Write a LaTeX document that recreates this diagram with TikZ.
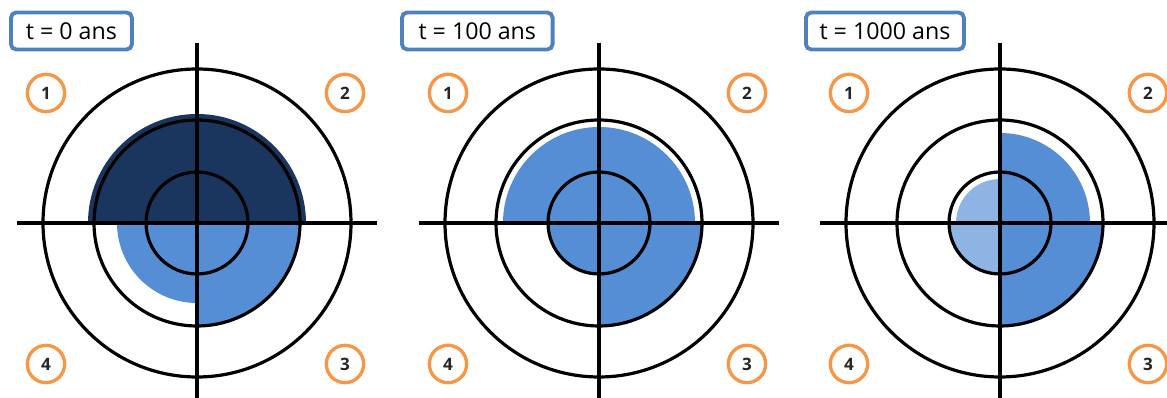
\documentclass[tikz,border=0pt]{standalone}
\usepackage{fontspec}
\setmainfont{Open Sans}
\usepackage{tkz-euclide}
\definecolor{navy}{HTML}{1A365E}
\definecolor{midblue}{HTML}{558ED5}
\definecolor{paleblue}{HTML}{8EB4E3}
\definecolor{boxblue}{HTML}{4F81BD}
\definecolor{numorange}{HTML}{F79646}
\tikzset{
  ring/.style={line width=2.4pt},
  cross/.style={line width=2.4pt},
  timebox/.style={draw=boxblue, line width=2.9pt, rounded corners=4pt, anchor=west,
    minimum height=27.75pt, inner sep=0pt, font=\fontsize{17.4}{19}\selectfont},
  zone/.style={circle, draw=numorange, line width=2.5pt, minimum size=28pt, inner sep=0pt,
    font=\fontsize{12.8}{14}\selectfont\bfseries, text=black!85}
}
\newcommand\quadfill[5]{\fill[#1] (#2) -- ++(#3:#5) arc (#3:#4:#5) -- cycle;}

\begin{document}
\begin{tikzpicture}[x=0.75pt,y=0.75pt]
    \useasboundingbox (0,0) rectangle (1167,398);
    \tkzDefPoints{197/175/O_1,599/175/O_2,1000/175/O_3}
    \quadfill{navy}{O_1}{0}{180}{109}
    \quadfill{midblue}{O_1}{180}{270}{80}
    \quadfill{midblue}{O_1}{270}{360}{103}
    \quadfill{midblue}{O_2}{0}{180}{96}
    \quadfill{midblue}{O_2}{180}{270}{51}
    \quadfill{midblue}{O_2}{270}{360}{103}
    \quadfill{midblue}{O_3}{0}{90}{90}
    \quadfill{paleblue}{O_3}{90}{180}{44}
    \quadfill{paleblue}{O_3}{180}{270}{51}
    \quadfill{midblue}{O_3}{270}{360}{103}
    \foreach \c in {O_1,O_2,O_3}{
        \foreach \r in {51,103,154}
            \draw[ring] (\c) circle (\r);
        \draw[cross] (\c) ++(-180,0) -- ++(360,0);
        \draw[cross] (\c) ++(0,180) -- ++(0,-355);
        \node[zone] (\c-1) at ([shift={(-151,130)}]\c) {1};
        \node[zone] (\c-2) at ([shift={(148,130)}]\c) {2};
        \node[zone] (\c-3) at ([shift={(148,-141)}]\c) {3};
        \node[zone] (\c-4) at ([shift={(-151,-141)}]\c) {4};
    }
    \node[timebox, minimum width=90.75pt] (t0) at (9,367) {t = 0 ans};
    \node[timebox, minimum width=113pt] (t100) at (400,367) {t = 100 ans};
    \node[timebox, minimum width=118.5pt] (t1000) at (804,367) {t = 1000 ans};
\end{tikzpicture}
\end{document}
